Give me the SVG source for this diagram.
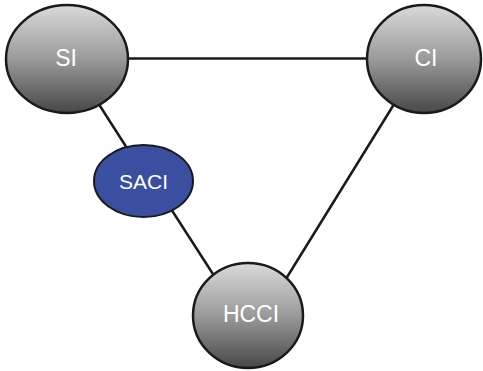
<svg xmlns="http://www.w3.org/2000/svg" width="483" height="371" viewBox="0 0 483 371">
  <defs>
    <linearGradient id="g" x1="0" y1="0" x2="0" y2="1">
      <stop offset="0" stop-color="#dadada"/>
      <stop offset="0.5" stop-color="#9a9a9a"/>
      <stop offset="1" stop-color="#474747"/>
    </linearGradient>
  </defs>
  <style>
    .edge { stroke: #1a1a1a; stroke-width: 2.5; fill: none; }
    .gray { fill: url(#g); stroke: #1a1a1a; stroke-width: 2.5; }
    .blue { fill: #3b4fa0; stroke: #1a1a1a; stroke-width: 2; }
    .lbl { font-family: "Liberation Sans", Arial, sans-serif; fill: #ffffff; text-anchor: middle; }
  </style>
  <rect width="483" height="371" fill="#ffffff"/>
  <g id="connectors">
    <line class="edge" x1="67" y1="58.5" x2="425" y2="58.5"/>
    <line class="edge" x1="70" y1="59" x2="148" y2="181"/>
    <line class="edge" x1="153" y1="181" x2="240" y2="316"/>
    <line class="edge" x1="422" y1="59" x2="263" y2="316"/>
  </g>
  <g id="SI">
    <ellipse class="gray" cx="67" cy="59" rx="61" ry="54"/>
    <text class="lbl" x="66" y="66" font-size="23">SI</text>
  </g>
  <g id="CI">
    <ellipse class="gray" cx="424" cy="59" rx="57" ry="54"/>
    <text class="lbl" x="426" y="66" font-size="23">CI</text>
  </g>
  <g id="SACI">
    <ellipse class="blue" cx="143.5" cy="181" rx="49.5" ry="36"/>
    <text class="lbl" x="143.5" y="189" font-size="21">SACI</text>
  </g>
  <g id="HCCI">
    <ellipse class="gray" cx="248" cy="315.5" rx="55" ry="52.5"/>
    <text class="lbl" x="251" y="322" font-size="23">HCCI</text>
  </g>
</svg>
